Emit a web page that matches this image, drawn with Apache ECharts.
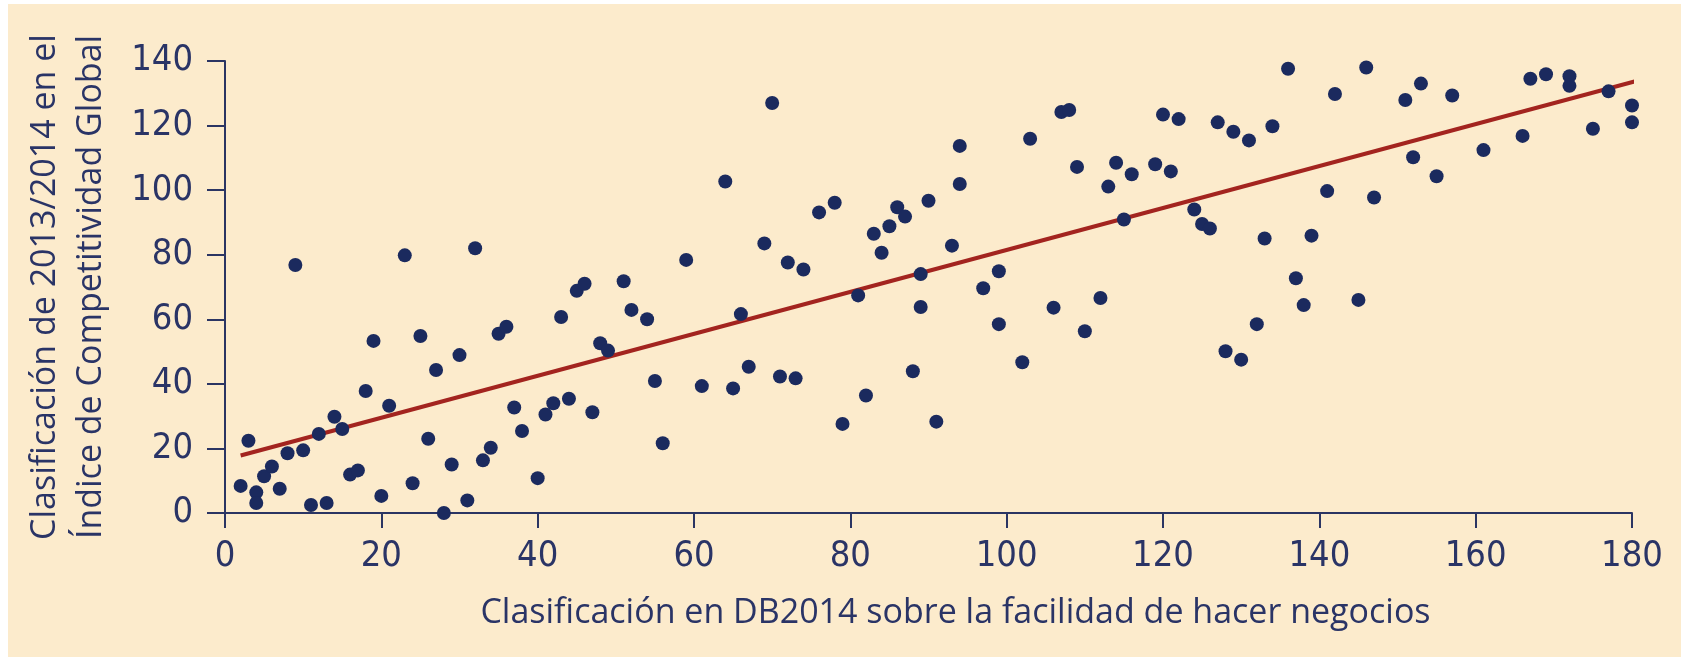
<!DOCTYPE html>
<html>
<head>
<meta charset="utf-8">
<script src="https://cdn.jsdelivr.net/npm/echarts@6/dist/echarts.min.js"></script>
<style>
  html, body { margin: 0; padding: 0; background: #ffffff; }
  #bg { position: absolute; left: 8px; top: 4px; width: 1673px; height: 653px; background: #FCEBCC; }
  #chart { position: absolute; left: 0; top: 0; width: 1681px; height: 666px; }
</style>
</head>
<body>
<div id="bg"></div>
<div id="chart"></div>
<script>
// DB2014 ease of doing business rank
const dbRank = [2,3,4,4,5,6,7,8,9,10,11,12,13,14,15,16,17,18,19,20,21,23,24,25,26,27,28,29,30,31,32,33,34,35,36,37,38,40,41,42,43,44,45,46,47,48,49,51,52,54,55,56,59,61,64,65,66,67,69,70,71,72,73,74,76,78,79,81,82,83,84,85,86,87,88,89,89,90,91,93,94,94,97,99,99,102,103,106,107,108,109,110,112,113,114,115,116,119,120,121,122,124,125,126,127,128,129,130,131,132,133,134,136,137,138,139,141,142,145,146,147,151,152,153,155,157,161,166,167,169,172,172,175,177,180,180];
// Global Competitiveness Index 2013/2014 rank
const gciRank = [8.4,22.4,6.4,3.1,11.4,14.4,7.5,18.5,76.8,19.4,2.5,24.5,3.1,29.8,26,11.9,13.2,37.8,53.3,5.3,33.2,79.8,9.2,54.8,23,44.3,0,15,48.9,3.9,82,16.3,20.2,55.5,57.7,32.7,25.4,10.8,30.5,34,60.7,35.4,68.8,71,31.2,52.6,50.3,71.8,62.9,60,40.9,21.6,78.4,39.3,102.7,38.6,61.6,45.3,83.5,127,42.3,77.6,41.7,75.4,93.1,96.1,27.6,67.4,36.4,86.5,80.6,88.8,94.7,91.8,43.9,74,63.8,96.7,28.3,82.8,101.9,113.7,69.6,74.9,58.5,46.7,115.9,63.6,124.2,124.8,107.2,56.3,66.6,101.1,108.5,90.9,104.9,108,123.4,105.8,122,94,89.5,88.1,121,50.1,118.1,47.5,115.4,58.5,85,119.8,137.6,72.7,64.4,85.9,99.7,129.8,66,138,97.7,127.9,110.2,133,104.3,129.3,112.4,116.8,134.5,135.9,135.3,132.3,119,130.6,126.2,121];
// fitted trend line endpoints
const trendX = [2, 181];
const trendY = [17.8, 134.1];

const xTitle = 'Clasificación en DB2014 sobre la facilidad de hacer negocios';
const yTitle = ['Clasificación de 2013/2014 en el', 'Índice de Competitividad Global'];

const navy = '#1B2A5E';
const axisColor = '#2B3563';
const textColor = '#2A3466';
const labelFont = '"Liberation Sans Narrow", "DejaVu Sans Condensed", sans-serif';
const titleFont = '"Open Sans", sans-serif';

const chart = echarts.init(document.getElementById('chart'), null, { renderer: 'canvas' });
chart.setOption({
  backgroundColor: 'transparent',
  animation: false,
  grid: { left: 225, right: 49, top: 61, bottom: 153, containLabel: false, outerBoundsMode: 'none' },
  xAxis: {
    type: 'value', min: 0, max: 180, interval: 20,
    name: xTitle, nameLocation: 'middle', nameGap: 83,
    nameTextStyle: { fontFamily: titleFont, fontSize: 34, color: textColor, lineHeight: 34, padding: [0, 0, 0, 54] },
    axisLine: { show: true, lineStyle: { color: axisColor, width: 2 } },
    axisTick: { show: true, length: 15, lineStyle: { color: axisColor, width: 2 } },
    axisLabel: { fontFamily: labelFont, fontSize: 36, color: textColor, margin: 26 },
    splitLine: { show: false }
  },
  yAxis: {
    type: 'value', min: 0, max: 140, interval: 20,
    name: yTitle.join('\n'), nameLocation: 'middle', nameGap: 111, nameRotate: 90,
    nameTextStyle: { fontFamily: titleFont, fontSize: 34, color: textColor, lineHeight: 46 },
    axisLine: { show: true, lineStyle: { color: axisColor, width: 2 } },
    axisTick: { show: true, length: 18, lineStyle: { color: axisColor, width: 2 } },
    axisLabel: { fontFamily: labelFont, fontSize: 36, color: textColor, margin: 32 },
    splitLine: { show: false }
  },
  series: [
    {
      type: 'line', z: 2,
      data: trendX.map((x, i) => [x, trendY[i]]),
      symbol: 'none', silent: true,
      lineStyle: { color: '#A3241F', width: 4 }
    },
    {
      type: 'scatter', z: 3,
      data: dbRank.map((x, i) => [x, gciRank[i]]),
      symbol: 'circle', symbolSize: 14,
      itemStyle: { color: navy, opacity: 1 }
    }
  ]
});
</script>
</body>
</html>
